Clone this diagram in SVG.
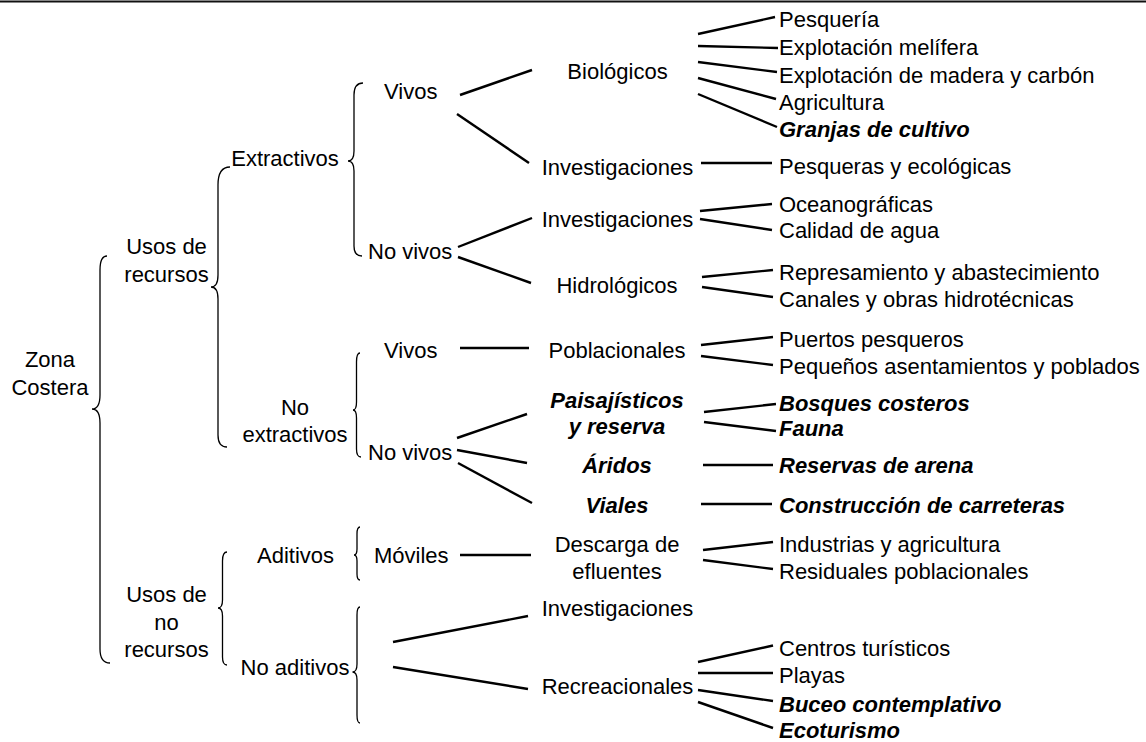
<svg xmlns="http://www.w3.org/2000/svg" width="1146" height="742" viewBox="0 0 1146 742">
<style>
text{font-family:"Liberation Sans",Arial,sans-serif;font-size:22px;fill:#000}
.m{text-anchor:middle}
.b{font-weight:bold;font-style:italic}
.c line{stroke:#000;stroke-width:2.4;stroke-linecap:butt}
.br{fill:none;stroke:#000;stroke-width:1.3}
</style>
<rect width="1146" height="742" fill="#fff"/>
<line x1="0" y1="1.5" x2="1146" y2="1.5" stroke="#111" stroke-width="2.2"/>
<g id="braces">
<path class="br" d="M107,256 Q100,256 100,270 L100,395 Q100,409 92,409 Q100,409 100,423 L100,649 Q100,663 110,663"/>
<path class="br" d="M230,167 Q218,167 218,185 L218,275 Q218,287 211,287 Q218,287 218,299 L218,435 Q218,447 227,447"/>
<path class="br" d="M363,83 Q354,83 354,95 L354,151 Q354,161 348,161 Q354,161 354,171 L354,246 Q354,256 362,256"/>
<path class="br" d="M360,353 Q356.5,353 356.5,362 L356.5,402 Q356.5,410 353,410 Q356.5,410 356.5,418 L356.5,449 Q356.5,457 361,457"/>
<path class="br" d="M227,552 Q222.5,552 222.5,561 L222.5,600 Q222.5,608 218,608 Q222.5,608 222.5,616 L222.5,657 Q222.5,665 227,665"/>
<path class="br" d="M360,527 Q357,527 357,534 L357,549 Q357,555 354,555 Q357,555 357,561 L357,574 Q357,580 360,580"/>
<path class="br" d="M360,607 Q357,607 357,615 L357,664 Q357,672 352.5,672 Q357,672 357,680 L357,715 Q357,723 360,723"/>
</g>
<g id="n-zona"><text class="m" x="50" y="367">Zona</text><text class="m" x="50" y="395">Costera</text></g>
<g id="n-usos-rec"><text class="m" x="166.5" y="254">Usos de</text><text class="m" x="166.5" y="282">recursos</text></g>
<g id="n-extractivos"><text class="m" x="285" y="166">Extractivos</text></g>
<g id="n-vivos1"><text x="384" y="99">Vivos</text></g>
<g id="n-novivos1"><text x="368" y="259">No vivos</text></g>
<g id="n-noextractivos"><text class="m" x="295" y="415">No</text><text class="m" x="295" y="442">extractivos</text></g>
<g id="n-vivos2"><text x="384" y="358">Vivos</text></g>
<g id="n-novivos2"><text x="368" y="460">No vivos</text></g>
<g id="n-usos-norec"><text class="m" x="166.5" y="602">Usos de</text><text class="m" x="166.5" y="629.5">no</text><text class="m" x="166.5" y="657">recursos</text></g>
<g id="n-aditivos"><text class="m" x="295.5" y="563">Aditivos</text></g>
<g id="n-moviles"><text x="374" y="563">Móviles</text></g>
<g id="n-noaditivos"><text class="m" x="295" y="675">No aditivos</text></g>
<g id="n-biologicos"><text class="m" x="617.5" y="79">Biológicos</text></g>
<g id="n-invest1"><text class="m" x="617.5" y="175">Investigaciones</text></g>
<g id="n-invest2"><text class="m" x="617.5" y="227">Investigaciones</text></g>
<g id="n-hidrologicos"><text class="m" x="617" y="293">Hidrológicos</text></g>
<g id="n-poblacionales"><text class="m" x="617" y="358">Poblacionales</text></g>
<g id="n-paisajisticos"><text class="m b" x="617" y="408">Paisajísticos</text><text class="m b" x="617" y="434">y reserva</text></g>
<g id="n-aridos"><text class="m b" x="617" y="473">Áridos</text></g>
<g id="n-viales"><text class="m b" x="617" y="512.5">Viales</text></g>
<g id="n-descarga"><text class="m" x="617" y="551.5">Descarga de</text><text class="m" x="617" y="579">efluentes</text></g>
<g id="n-invest3"><text class="m" x="617.5" y="616">Investigaciones</text></g>
<g id="n-recreacionales"><text class="m" x="617.5" y="694">Recreacionales</text></g>
<g id="n-leaves">
<text x="779" y="27">Pesquería</text>
<text x="779" y="54.5">Explotación melífera</text>
<text x="779" y="83">Explotación de madera y carbón</text>
<text x="779" y="110">Agricultura</text>
<text class="b" x="779" y="137">Granjas de cultivo</text>
<text x="779" y="174">Pesqueras y ecológicas</text>
<text x="779" y="212">Oceanográficas</text>
<text x="779" y="238">Calidad de agua</text>
<text x="779" y="280">Represamiento y abastecimiento</text>
<text x="779" y="307">Canales y obras hidrotécnicas</text>
<text x="779" y="347">Puertos pesqueros</text>
<text x="779" y="373.5">Pequeños asentamientos y poblados</text>
<text class="b" x="779" y="411">Bosques costeros</text>
<text class="b" x="779" y="436">Fauna</text>
<text class="b" x="779" y="473">Reservas de arena</text>
<text class="b" x="779" y="512.5">Construcción de carreteras</text>
<text x="779" y="551.5">Industrias y agricultura</text>
<text x="779" y="579">Residuales poblacionales</text>
<text x="779" y="655.5">Centros turísticos</text>
<text x="779" y="683">Playas</text>
<text class="b" x="779" y="711.5">Buceo contemplativo</text>
<text class="b" x="779" y="738">Ecoturismo</text>
</g>
<g id="connectors" class="c">
<line x1="460" y1="95" x2="532" y2="70"/>
<line x1="457" y1="114" x2="529" y2="163"/>
<line x1="698" y1="34" x2="775" y2="17"/>
<line x1="698" y1="46" x2="778" y2="48"/>
<line x1="698" y1="62" x2="777" y2="72"/>
<line x1="698" y1="78" x2="776" y2="99"/>
<line x1="698" y1="94" x2="777" y2="127"/>
<line x1="701" y1="163" x2="772" y2="163"/>
<line x1="458" y1="247" x2="532" y2="218"/>
<line x1="458" y1="257" x2="531" y2="283"/>
<line x1="700" y1="211" x2="772" y2="204"/>
<line x1="700" y1="219" x2="772" y2="230"/>
<line x1="702" y1="277" x2="773" y2="270"/>
<line x1="702" y1="287" x2="773" y2="297"/>
<line x1="460" y1="348" x2="529" y2="348"/>
<line x1="701" y1="345" x2="773" y2="337"/>
<line x1="701" y1="356" x2="773" y2="365"/>
<line x1="457" y1="438" x2="527" y2="414"/>
<line x1="457" y1="450" x2="527" y2="463"/>
<line x1="458" y1="463" x2="532" y2="503"/>
<line x1="704" y1="412" x2="776" y2="404"/>
<line x1="704" y1="422" x2="776" y2="431"/>
<line x1="703" y1="465" x2="773" y2="465"/>
<line x1="701" y1="504" x2="772" y2="504"/>
<line x1="460" y1="555" x2="531" y2="555"/>
<line x1="703" y1="550" x2="773" y2="542"/>
<line x1="703" y1="560" x2="773" y2="569"/>
<line x1="393" y1="642" x2="528" y2="616"/>
<line x1="393" y1="667" x2="528" y2="689"/>
<line x1="698" y1="662" x2="773" y2="645.5"/>
<line x1="698" y1="673" x2="773" y2="673"/>
<line x1="698" y1="690" x2="773" y2="701"/>
<line x1="698" y1="702" x2="773" y2="728"/>
</g>
</svg>
